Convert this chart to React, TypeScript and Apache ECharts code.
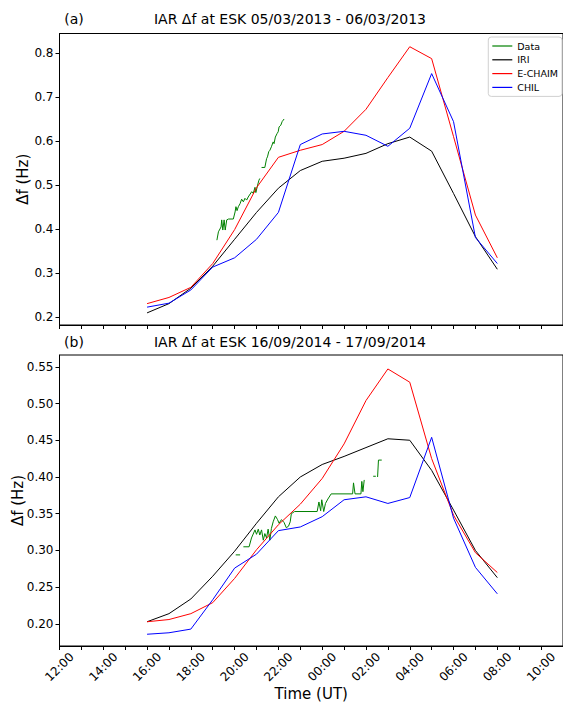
import React, { useEffect, useRef } from "react";
import * as echarts from "echarts";

// Model times: hours after 12:00 UT (16:00 .. 08:00 next day)
const MODEL_HOURS = [4, 5, 6, 7, 8, 9, 10, 11, 12, 13, 14, 15, 16, 17, 18, 19, 20];

// Panel (a) 05/03/2013 - 06/03/2013
const IRI_A = [0.210, 0.231, 0.266, 0.316, 0.377, 0.438, 0.493, 0.533, 0.554, 0.561, 0.572, 0.594, 0.609, 0.577, 0.481, 0.383, 0.309];
const ECHAIM_A = [0.231, 0.245, 0.268, 0.322, 0.399, 0.494, 0.563, 0.579, 0.592, 0.622, 0.672, 0.744, 0.814, 0.787, 0.610, 0.432, 0.335];
const CHIL_A = [0.223, 0.232, 0.262, 0.314, 0.335, 0.377, 0.438, 0.592, 0.616, 0.622, 0.613, 0.588, 0.629, 0.753, 0.644, 0.381, 0.322];
const DATA_A_T = [7.19, 7.26, 7.38, 7.41, 7.46, 7.52, 7.57, 7.64, 7.72, 7.94, 8.02, 8.06, 8.11, 8.17, 8.25, 8.32, 8.40, 8.47, 8.55, 8.62, 8.78, 8.85, 8.93, 8.97, 9.05, 9.11, 9.15, 9.19, 9.23, 9.38, 9.46, 9.50, 9.56, 9.61, 9.68, 9.76, 9.80, 9.86, 9.94, 9.99, 10.03, 10.11, 10.17, 10.26];
const DATA_A_V = [0.375, 0.394, 0.405, 0.421, 0.398, 0.421, 0.398, 0.421, 0.423, 0.423, 0.439, 0.451, 0.442, 0.451, 0.458, 0.468, 0.462, 0.470, 0.466, 0.473, 0.485, 0.481, 0.495, 0.483, 0.500, 0.511, 0.515, null, 0.540, 0.540, 0.560, 0.564, 0.576, 0.579, 0.587, 0.598, 0.594, 0.609, 0.617, 0.621, 0.632, 0.636, 0.644, 0.650];

// Panel (b) 16/09/2014 - 17/09/2014
const IRI_B = [0.203, 0.214, 0.234, 0.265, 0.299, 0.337, 0.373, 0.400, 0.417, 0.428, 0.440, 0.452, 0.450, 0.409, 0.355, 0.300, 0.263];
const ECHAIM_B = [0.203, 0.206, 0.214, 0.229, 0.262, 0.301, 0.335, 0.363, 0.398, 0.445, 0.504, 0.547, 0.529, 0.425, 0.348, 0.297, 0.270];
const CHIL_B = [0.186, 0.188, 0.193, 0.233, 0.276, 0.295, 0.327, 0.332, 0.346, 0.369, 0.373, 0.364, 0.372, 0.454, 0.344, 0.277, 0.241];
const DATA_B_T = [8.05, 8.25, 8.32, 8.40, 8.66, 8.77, 8.93, 9.00, 9.08, 9.15, 9.23, 9.31, 9.38, 9.46, 9.53, 9.61, 9.68, 9.76, 9.86, 9.96, 10.03, 10.14, 10.26, 10.36, 10.46, 10.54, 10.59, 10.74, 11.77, 11.85, 11.93, 11.98, 12.07, 12.15, 12.26, 12.41, 13.39, 13.43, 13.50, 13.77, 13.81, 13.86, 13.92, 14.10, 14.33, 14.45, 14.49, 14.53, 14.57, 14.72];
const DATA_B_V = [0.294, 0.294, null, 0.305, 0.305, 0.317, 0.328, 0.322, 0.329, 0.321, 0.328, 0.314, 0.323, 0.317, 0.329, 0.314, 0.330, 0.339, 0.347, 0.342, 0.337, 0.342, 0.338, 0.331, 0.333, 0.339, 0.350, 0.353, 0.353, 0.366, 0.354, 0.369, 0.353, 0.364, 0.370, 0.377, 0.377, 0.392, 0.377, 0.377, 0.394, 0.380, 0.396, null, 0.401, 0.401, null, 0.400, 0.423, 0.423];

const X_TICKS = [0, 1, 2, 3, 4, 5, 6, 7, 8, 9, 10, 11, 12, 13, 14, 15, 16, 17, 18, 19, 20, 21, 22, 23];
const X_LABELS = [0, 2, 4, 6, 8, 10, 12, 14, 16, 18, 20, 22];
const Y_TICKS_A = [0.2, 0.3, 0.4, 0.5, 0.6, 0.7, 0.8];
const Y_TICKS_B = [0.2, 0.25, 0.3, 0.35, 0.4, 0.45, 0.5, 0.55];

const FONT = "DejaVu Sans";

function fmtHour(v: number): string {
  const h = (12 + Math.round(v)) % 24;
  return (h < 10 ? "0" : "") + h + ":00";
}

function pairs(xs: number[], ys: (number | null)[]) {
  return xs.map((x, i) => [x, ys[i]]);
}

export default function App() {
  const ref = useRef<HTMLDivElement>(null);
  useEffect(() => {
    if (!ref.current) return;
    const chart = echarts.init(ref.current, null, { renderer: "svg" });
    const xAxisBase = (gridIndex: number, showLabels: boolean) => ({
      type: "value",
      gridIndex,
      min: 0,
      max: 23,
      axisLine: { show: true, lineStyle: { color: "#000", width: 1 } },
      axisTick: { show: true, length: 4, customValues: X_TICKS, lineStyle: { color: "#000", width: 1 } },
      axisLabel: showLabels
        ? {
            show: true,
            customValues: X_LABELS,
            rotate: 45,
            align: "center",
            verticalAlign: "middle",
            margin: 21,
            fontSize: 12,
            fontFamily: FONT,
            color: "#000",
            formatter: (v: number) => fmtHour(v),
          }
        : { show: false },
      splitLine: { show: false },
      name: showLabels ? "Time (UT)" : "",
      nameLocation: "middle",
      nameGap: 40,
      nameMoveOverlap: false,
      nameTextStyle: { fontSize: 15, fontFamily: FONT, color: "#000" },
    });
    const yAxisBase = (gridIndex: number, min: number, max: number, ticks: number[], dec: number, gap: number) => ({
      type: "value",
      gridIndex,
      min,
      max,
      axisLine: { show: true, lineStyle: { color: "#000", width: 1 } },
      axisTick: { show: true, length: 4, customValues: ticks, lineStyle: { color: "#000", width: 1 } },
      axisLabel: {
        show: true,
        customValues: ticks,
        margin: 6,
        fontSize: 12,
        fontFamily: FONT,
        color: "#000",
        formatter: (v: number) => v.toFixed(dec),
      },
      splitLine: { show: false },
      name: "Δf (Hz)",
      nameLocation: "middle",
      nameRotate: 90,
      nameGap: gap,
      nameMoveOverlap: false,
      nameTextStyle: { fontSize: 15, fontFamily: FONT, color: "#000" },
    });
    const line = (name: string, color: string, data: any[], idx: number) => ({
      name,
      type: "line",
      xAxisIndex: idx,
      yAxisIndex: idx,
      data,
      symbol: "none",
      connectNulls: false,
      lineStyle: { color, width: 1 },
      itemStyle: { color },
      emphasis: { disabled: true },
    });
    const models = (i: number, iri: number[], ech: number[], chil: number[]) => [
      line("IRI", "#000000", pairs(MODEL_HOURS, iri), i),
      line("E-CHAIM", "#ff0000", pairs(MODEL_HOURS, ech), i),
      line("CHIL", "#0000ff", pairs(MODEL_HOURS, chil), i),
    ];
    const titleText = (x: number, y: number, text: string) => ({
      type: "text",
      x,
      y,
      style: { text, fontSize: 14, fontFamily: FONT, fill: "#000", align: "center", verticalAlign: "middle" },
    });
    chart.setOption({
      animation: false,
      backgroundColor: "#fff",
      grid: [
        { left: 59.5, top: 33.5, width: 508, height: 291.5, show: true, borderColor: "#000", borderWidth: 1, containLabel: false },
        { left: 59.5, top: 355, width: 508, height: 291, show: true, borderColor: "#000", borderWidth: 1, containLabel: false },
      ],
      xAxis: [xAxisBase(0, false), xAxisBase(1, true)],
      yAxis: [
        yAxisBase(0, 0.1825, 0.844, Y_TICKS_A, 1, 29),
        yAxisBase(1, 0.17, 0.566, Y_TICKS_B, 2, 34),
      ],
      legend: {
        data: ["Data", "IRI", "E-CHAIM", "CHIL"],
        orient: "vertical",
        right: 1,
        top: 37,
        icon: "rect",
        itemWidth: 20,
        itemHeight: 1.2,
        itemGap: 3.8,
        padding: [4, 4, 4, 4],
        borderColor: "#d0d0d0",
        borderWidth: 1,
        borderRadius: 3,
        backgroundColor: "#ffffff",
        selectedMode: false,
        textStyle: { fontSize: 9.5, lineHeight: 9.5, fontFamily: FONT, color: "#000" },
      },
      graphic: [
        titleText(74, 19, "(a)"),
        titleText(290, 19, "IAR Δf at ESK 05/03/2013 - 06/03/2013"),
        titleText(74, 341.5, "(b)"),
        titleText(290, 341.5, "IAR Δf at ESK 16/09/2014 - 17/09/2014"),
      ],
      series: [
        line("Data", "#008000", pairs(DATA_A_T, DATA_A_V), 0),
        ...models(0, IRI_A, ECHAIM_A, CHIL_A),
        line("Data", "#008000", pairs(DATA_B_T, DATA_B_V), 1),
        ...models(1, IRI_B, ECHAIM_B, CHIL_B),
      ],
    });
    return () => chart.dispose();
  }, []);
  return (
    <div
      ref={ref}
      style={{ position: "absolute", left: 0, top: 0, width: 563, height: 702, overflow: "hidden" }}
    />
  );
}
